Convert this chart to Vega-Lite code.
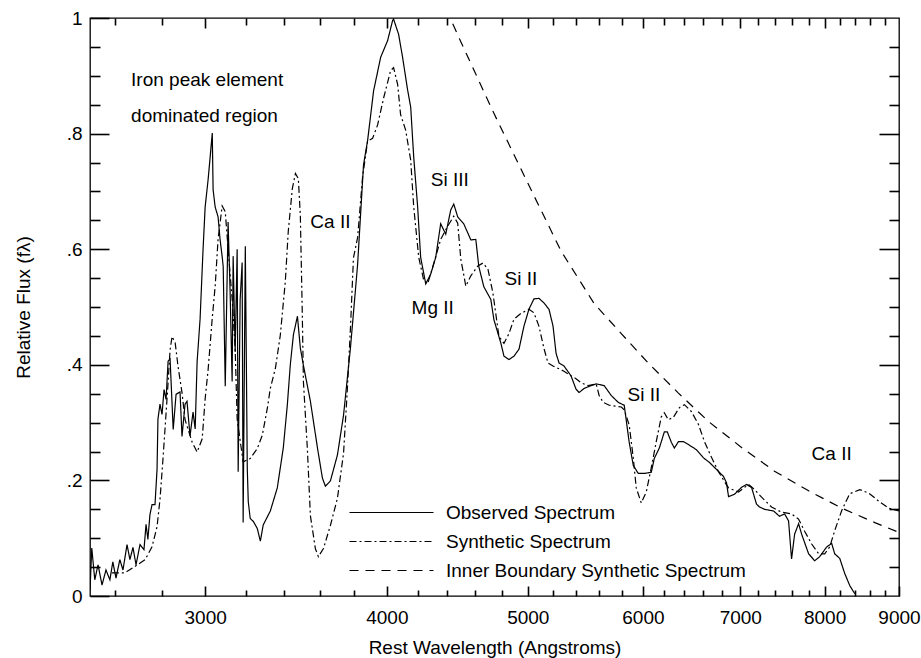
{
  "$schema": "https://vega.github.io/schema/vega-lite/v6.json",
  "width": 809,
  "height": 578,
  "autosize": {"type": "none"},
  "padding": {"left": 90, "top": 18, "right": 22, "bottom": 62},
  "background": "white",
  "config": {
    "font": "Liberation Sans",
    "view": {"stroke": "black", "strokeWidth": 1.3},
    "axis": {"domain": false, "grid": false, "labelColor": "black", "titleColor": "black", "labelFontSize": 19, "titleFontSize": 19, "titleFontWeight": "normal", "labelFont": "Liberation Sans", "titleFont": "Liberation Sans", "labelFlush": false, "labelOverlap": false}
  },
  "datasets": {
    "spectra": [
      {"series": "Observed Spectrum", "wavelength": 2500, "flux": 0.010},
      {"series": "Observed Spectrum", "wavelength": 2507, "flux": 0.083},
      {"series": "Observed Spectrum", "wavelength": 2519, "flux": 0.028},
      {"series": "Observed Spectrum", "wavelength": 2532, "flux": 0.054},
      {"series": "Observed Spectrum", "wavelength": 2548, "flux": 0.019},
      {"series": "Observed Spectrum", "wavelength": 2564, "flux": 0.045},
      {"series": "Observed Spectrum", "wavelength": 2580, "flux": 0.028},
      {"series": "Observed Spectrum", "wavelength": 2592, "flux": 0.059},
      {"series": "Observed Spectrum", "wavelength": 2605, "flux": 0.031},
      {"series": "Observed Spectrum", "wavelength": 2621, "flux": 0.063},
      {"series": "Observed Spectrum", "wavelength": 2634, "flux": 0.045},
      {"series": "Observed Spectrum", "wavelength": 2651, "flux": 0.089},
      {"series": "Observed Spectrum", "wavelength": 2663, "flux": 0.063},
      {"series": "Observed Spectrum", "wavelength": 2676, "flux": 0.084},
      {"series": "Observed Spectrum", "wavelength": 2689, "flux": 0.054},
      {"series": "Observed Spectrum", "wavelength": 2706, "flux": 0.089},
      {"series": "Observed Spectrum", "wavelength": 2723, "flux": 0.080},
      {"series": "Observed Spectrum", "wavelength": 2732, "flux": 0.124},
      {"series": "Observed Spectrum", "wavelength": 2740, "flux": 0.098},
      {"series": "Observed Spectrum", "wavelength": 2749, "flux": 0.141},
      {"series": "Observed Spectrum", "wavelength": 2758, "flux": 0.158},
      {"series": "Observed Spectrum", "wavelength": 2771, "flux": 0.158},
      {"series": "Observed Spectrum", "wavelength": 2780, "flux": 0.219},
      {"series": "Observed Spectrum", "wavelength": 2784, "flux": 0.306},
      {"series": "Observed Spectrum", "wavelength": 2793, "flux": 0.332},
      {"series": "Observed Spectrum", "wavelength": 2802, "flux": 0.314},
      {"series": "Observed Spectrum", "wavelength": 2811, "flux": 0.357},
      {"series": "Observed Spectrum", "wavelength": 2820, "flux": 0.340},
      {"series": "Observed Spectrum", "wavelength": 2829, "flux": 0.406},
      {"series": "Observed Spectrum", "wavelength": 2838, "flux": 0.410},
      {"series": "Observed Spectrum", "wavelength": 2852, "flux": 0.288},
      {"series": "Observed Spectrum", "wavelength": 2865, "flux": 0.349},
      {"series": "Observed Spectrum", "wavelength": 2883, "flux": 0.353},
      {"series": "Observed Spectrum", "wavelength": 2892, "flux": 0.276},
      {"series": "Observed Spectrum", "wavelength": 2906, "flux": 0.332},
      {"series": "Observed Spectrum", "wavelength": 2915, "flux": 0.337},
      {"series": "Observed Spectrum", "wavelength": 2929, "flux": 0.277},
      {"series": "Observed Spectrum", "wavelength": 2943, "flux": 0.318},
      {"series": "Observed Spectrum", "wavelength": 2953, "flux": 0.289},
      {"series": "Observed Spectrum", "wavelength": 2962, "flux": 0.405},
      {"series": "Observed Spectrum", "wavelength": 2976, "flux": 0.479},
      {"series": "Observed Spectrum", "wavelength": 2990, "flux": 0.599},
      {"series": "Observed Spectrum", "wavelength": 3000, "flux": 0.673},
      {"series": "Observed Spectrum", "wavelength": 3014, "flux": 0.720},
      {"series": "Observed Spectrum", "wavelength": 3024, "flux": 0.760},
      {"series": "Observed Spectrum", "wavelength": 3034, "flux": 0.801},
      {"series": "Observed Spectrum", "wavelength": 3038, "flux": 0.703},
      {"series": "Observed Spectrum", "wavelength": 3048, "flux": 0.673},
      {"series": "Observed Spectrum", "wavelength": 3062, "flux": 0.656},
      {"series": "Observed Spectrum", "wavelength": 3072, "flux": 0.616},
      {"series": "Observed Spectrum", "wavelength": 3082, "flux": 0.587},
      {"series": "Observed Spectrum", "wavelength": 3087, "flux": 0.570},
      {"series": "Observed Spectrum", "wavelength": 3097, "flux": 0.363},
      {"series": "Observed Spectrum", "wavelength": 3111, "flux": 0.647},
      {"series": "Observed Spectrum", "wavelength": 3121, "flux": 0.526},
      {"series": "Observed Spectrum", "wavelength": 3131, "flux": 0.371},
      {"series": "Observed Spectrum", "wavelength": 3136, "flux": 0.588},
      {"series": "Observed Spectrum", "wavelength": 3146, "flux": 0.422},
      {"series": "Observed Spectrum", "wavelength": 3156, "flux": 0.600},
      {"series": "Observed Spectrum", "wavelength": 3161, "flux": 0.215},
      {"series": "Observed Spectrum", "wavelength": 3171, "flux": 0.513},
      {"series": "Observed Spectrum", "wavelength": 3181, "flux": 0.577},
      {"series": "Observed Spectrum", "wavelength": 3186, "flux": 0.127},
      {"series": "Observed Spectrum", "wavelength": 3197, "flux": 0.605},
      {"series": "Observed Spectrum", "wavelength": 3207, "flux": 0.220},
      {"series": "Observed Spectrum", "wavelength": 3212, "flux": 0.163},
      {"series": "Observed Spectrum", "wavelength": 3222, "flux": 0.134},
      {"series": "Observed Spectrum", "wavelength": 3238, "flux": 0.129},
      {"series": "Observed Spectrum", "wavelength": 3258, "flux": 0.117},
      {"series": "Observed Spectrum", "wavelength": 3274, "flux": 0.095},
      {"series": "Observed Spectrum", "wavelength": 3289, "flux": 0.123},
      {"series": "Observed Spectrum", "wavelength": 3326, "flux": 0.147},
      {"series": "Observed Spectrum", "wavelength": 3363, "flux": 0.187},
      {"series": "Observed Spectrum", "wavelength": 3395, "flux": 0.256},
      {"series": "Observed Spectrum", "wavelength": 3417, "flux": 0.331},
      {"series": "Observed Spectrum", "wavelength": 3433, "flux": 0.400},
      {"series": "Observed Spectrum", "wavelength": 3450, "flux": 0.452},
      {"series": "Observed Spectrum", "wavelength": 3472, "flux": 0.484},
      {"series": "Observed Spectrum", "wavelength": 3488, "flux": 0.429},
      {"series": "Observed Spectrum", "wavelength": 3505, "flux": 0.399},
      {"series": "Observed Spectrum", "wavelength": 3544, "flux": 0.337},
      {"series": "Observed Spectrum", "wavelength": 3584, "flux": 0.256},
      {"series": "Observed Spectrum", "wavelength": 3612, "flux": 0.204},
      {"series": "Observed Spectrum", "wavelength": 3629, "flux": 0.190},
      {"series": "Observed Spectrum", "wavelength": 3658, "flux": 0.199},
      {"series": "Observed Spectrum", "wavelength": 3699, "flux": 0.244},
      {"series": "Observed Spectrum", "wavelength": 3735, "flux": 0.313},
      {"series": "Observed Spectrum", "wavelength": 3776, "flux": 0.429},
      {"series": "Observed Spectrum", "wavelength": 3819, "flux": 0.573},
      {"series": "Observed Spectrum", "wavelength": 3855, "flux": 0.746},
      {"series": "Observed Spectrum", "wavelength": 3880, "flux": 0.788},
      {"series": "Observed Spectrum", "wavelength": 3917, "flux": 0.874},
      {"series": "Observed Spectrum", "wavelength": 3961, "flux": 0.932},
      {"series": "Observed Spectrum", "wavelength": 4005, "flux": 0.961},
      {"series": "Observed Spectrum", "wavelength": 4037, "flux": 0.996},
      {"series": "Observed Spectrum", "wavelength": 4043, "flux": 0.998},
      {"series": "Observed Spectrum", "wavelength": 4075, "flux": 0.972},
      {"series": "Observed Spectrum", "wavelength": 4101, "flux": 0.932},
      {"series": "Observed Spectrum", "wavelength": 4134, "flux": 0.875},
      {"series": "Observed Spectrum", "wavelength": 4154, "flux": 0.846},
      {"series": "Observed Spectrum", "wavelength": 4174, "flux": 0.759},
      {"series": "Observed Spectrum", "wavelength": 4200, "flux": 0.673},
      {"series": "Observed Spectrum", "wavelength": 4220, "flux": 0.586},
      {"series": "Observed Spectrum", "wavelength": 4254, "flux": 0.540},
      {"series": "Observed Spectrum", "wavelength": 4288, "flux": 0.557},
      {"series": "Observed Spectrum", "wavelength": 4322, "flux": 0.586},
      {"series": "Observed Spectrum", "wavelength": 4356, "flux": 0.644},
      {"series": "Observed Spectrum", "wavelength": 4391, "flux": 0.626},
      {"series": "Observed Spectrum", "wavelength": 4426, "flux": 0.668},
      {"series": "Observed Spectrum", "wavelength": 4447, "flux": 0.678},
      {"series": "Observed Spectrum", "wavelength": 4475, "flux": 0.656},
      {"series": "Observed Spectrum", "wavelength": 4518, "flux": 0.644},
      {"series": "Observed Spectrum", "wavelength": 4569, "flux": 0.616},
      {"series": "Observed Spectrum", "wavelength": 4605, "flux": 0.617},
      {"series": "Observed Spectrum", "wavelength": 4627, "flux": 0.570},
      {"series": "Observed Spectrum", "wavelength": 4664, "flux": 0.535},
      {"series": "Observed Spectrum", "wavelength": 4716, "flux": 0.513},
      {"series": "Observed Spectrum", "wavelength": 4739, "flux": 0.478},
      {"series": "Observed Spectrum", "wavelength": 4792, "flux": 0.437},
      {"series": "Observed Spectrum", "wavelength": 4815, "flux": 0.415},
      {"series": "Observed Spectrum", "wavelength": 4853, "flux": 0.409},
      {"series": "Observed Spectrum", "wavelength": 4892, "flux": 0.415},
      {"series": "Observed Spectrum", "wavelength": 4931, "flux": 0.427},
      {"series": "Observed Spectrum", "wavelength": 4970, "flux": 0.467},
      {"series": "Observed Spectrum", "wavelength": 5009, "flux": 0.496},
      {"series": "Observed Spectrum", "wavelength": 5049, "flux": 0.514},
      {"series": "Observed Spectrum", "wavelength": 5089, "flux": 0.515},
      {"series": "Observed Spectrum", "wavelength": 5130, "flux": 0.507},
      {"series": "Observed Spectrum", "wavelength": 5171, "flux": 0.496},
      {"series": "Observed Spectrum", "wavelength": 5204, "flux": 0.467},
      {"series": "Observed Spectrum", "wavelength": 5229, "flux": 0.420},
      {"series": "Observed Spectrum", "wavelength": 5254, "flux": 0.403},
      {"series": "Observed Spectrum", "wavelength": 5295, "flux": 0.398},
      {"series": "Observed Spectrum", "wavelength": 5354, "flux": 0.381},
      {"series": "Observed Spectrum", "wavelength": 5397, "flux": 0.358},
      {"series": "Observed Spectrum", "wavelength": 5423, "flux": 0.352},
      {"series": "Observed Spectrum", "wavelength": 5466, "flux": 0.359},
      {"series": "Observed Spectrum", "wavelength": 5528, "flux": 0.364},
      {"series": "Observed Spectrum", "wavelength": 5572, "flux": 0.367},
      {"series": "Observed Spectrum", "wavelength": 5643, "flux": 0.364},
      {"series": "Observed Spectrum", "wavelength": 5706, "flux": 0.347},
      {"series": "Observed Spectrum", "wavelength": 5770, "flux": 0.335},
      {"series": "Observed Spectrum", "wavelength": 5825, "flux": 0.330},
      {"series": "Observed Spectrum", "wavelength": 5871, "flux": 0.266},
      {"series": "Observed Spectrum", "wavelength": 5909, "flux": 0.226},
      {"series": "Observed Spectrum", "wavelength": 5956, "flux": 0.212},
      {"series": "Observed Spectrum", "wavelength": 6013, "flux": 0.212},
      {"series": "Observed Spectrum", "wavelength": 6080, "flux": 0.214},
      {"series": "Observed Spectrum", "wavelength": 6109, "flux": 0.238},
      {"series": "Observed Spectrum", "wavelength": 6158, "flux": 0.256},
      {"series": "Observed Spectrum", "wavelength": 6207, "flux": 0.284},
      {"series": "Observed Spectrum", "wavelength": 6236, "flux": 0.284},
      {"series": "Observed Spectrum", "wavelength": 6276, "flux": 0.266},
      {"series": "Observed Spectrum", "wavelength": 6306, "flux": 0.256},
      {"series": "Observed Spectrum", "wavelength": 6347, "flux": 0.267},
      {"series": "Observed Spectrum", "wavelength": 6397, "flux": 0.267},
      {"series": "Observed Spectrum", "wavelength": 6458, "flux": 0.261},
      {"series": "Observed Spectrum", "wavelength": 6531, "flux": 0.253},
      {"series": "Observed Spectrum", "wavelength": 6604, "flux": 0.239},
      {"series": "Observed Spectrum", "wavelength": 6667, "flux": 0.231},
      {"series": "Observed Spectrum", "wavelength": 6741, "flux": 0.219},
      {"series": "Observed Spectrum", "wavelength": 6816, "flux": 0.207},
      {"series": "Observed Spectrum", "wavelength": 6849, "flux": 0.196},
      {"series": "Observed Spectrum", "wavelength": 6871, "flux": 0.172},
      {"series": "Observed Spectrum", "wavelength": 6936, "flux": 0.176},
      {"series": "Observed Spectrum", "wavelength": 7014, "flux": 0.188},
      {"series": "Observed Spectrum", "wavelength": 7070, "flux": 0.193},
      {"series": "Observed Spectrum", "wavelength": 7126, "flux": 0.188},
      {"series": "Observed Spectrum", "wavelength": 7182, "flux": 0.159},
      {"series": "Observed Spectrum", "wavelength": 7217, "flux": 0.154},
      {"series": "Observed Spectrum", "wavelength": 7274, "flux": 0.150},
      {"series": "Observed Spectrum", "wavelength": 7379, "flux": 0.147},
      {"series": "Observed Spectrum", "wavelength": 7449, "flux": 0.138},
      {"series": "Observed Spectrum", "wavelength": 7509, "flux": 0.142},
      {"series": "Observed Spectrum", "wavelength": 7556, "flux": 0.130},
      {"series": "Observed Spectrum", "wavelength": 7592, "flux": 0.064},
      {"series": "Observed Spectrum", "wavelength": 7629, "flux": 0.107},
      {"series": "Observed Spectrum", "wavelength": 7677, "flux": 0.125},
      {"series": "Observed Spectrum", "wavelength": 7714, "flux": 0.107},
      {"series": "Observed Spectrum", "wavelength": 7800, "flux": 0.073},
      {"series": "Observed Spectrum", "wavelength": 7875, "flux": 0.061},
      {"series": "Observed Spectrum", "wavelength": 7938, "flux": 0.068},
      {"series": "Observed Spectrum", "wavelength": 8027, "flux": 0.085},
      {"series": "Observed Spectrum", "wavelength": 8090, "flux": 0.091},
      {"series": "Observed Spectrum", "wavelength": 8129, "flux": 0.073},
      {"series": "Observed Spectrum", "wavelength": 8194, "flux": 0.065},
      {"series": "Observed Spectrum", "wavelength": 8259, "flux": 0.039},
      {"series": "Observed Spectrum", "wavelength": 8325, "flux": 0.018},
      {"series": "Observed Spectrum", "wavelength": 8391, "flux": 0.004},
      {"series": "Synthetic Spectrum", "wavelength": 2588, "flux": 0.040},
      {"series": "Synthetic Spectrum", "wavelength": 2642, "flux": 0.040},
      {"series": "Synthetic Spectrum", "wavelength": 2684, "flux": 0.051},
      {"series": "Synthetic Spectrum", "wavelength": 2728, "flux": 0.063},
      {"series": "Synthetic Spectrum", "wavelength": 2758, "flux": 0.085},
      {"series": "Synthetic Spectrum", "wavelength": 2780, "flux": 0.120},
      {"series": "Synthetic Spectrum", "wavelength": 2793, "flux": 0.167},
      {"series": "Synthetic Spectrum", "wavelength": 2806, "flux": 0.236},
      {"series": "Synthetic Spectrum", "wavelength": 2816, "flux": 0.293},
      {"series": "Synthetic Spectrum", "wavelength": 2829, "flux": 0.369},
      {"series": "Synthetic Spectrum", "wavelength": 2838, "flux": 0.426},
      {"series": "Synthetic Spectrum", "wavelength": 2847, "flux": 0.449},
      {"series": "Synthetic Spectrum", "wavelength": 2861, "flux": 0.438},
      {"series": "Synthetic Spectrum", "wavelength": 2874, "flux": 0.397},
      {"series": "Synthetic Spectrum", "wavelength": 2892, "flux": 0.352},
      {"series": "Synthetic Spectrum", "wavelength": 2906, "flux": 0.305},
      {"series": "Synthetic Spectrum", "wavelength": 2939, "flux": 0.266},
      {"series": "Synthetic Spectrum", "wavelength": 2962, "flux": 0.249},
      {"series": "Synthetic Spectrum", "wavelength": 2986, "flux": 0.272},
      {"series": "Synthetic Spectrum", "wavelength": 3000, "flux": 0.341},
      {"series": "Synthetic Spectrum", "wavelength": 3014, "flux": 0.391},
      {"series": "Synthetic Spectrum", "wavelength": 3034, "flux": 0.481},
      {"series": "Synthetic Spectrum", "wavelength": 3048, "flux": 0.536},
      {"series": "Synthetic Spectrum", "wavelength": 3062, "flux": 0.617},
      {"series": "Synthetic Spectrum", "wavelength": 3082, "flux": 0.675},
      {"series": "Synthetic Spectrum", "wavelength": 3097, "flux": 0.665},
      {"series": "Synthetic Spectrum", "wavelength": 3111, "flux": 0.601},
      {"series": "Synthetic Spectrum", "wavelength": 3131, "flux": 0.514},
      {"series": "Synthetic Spectrum", "wavelength": 3146, "flux": 0.428},
      {"series": "Synthetic Spectrum", "wavelength": 3156, "flux": 0.306},
      {"series": "Synthetic Spectrum", "wavelength": 3186, "flux": 0.232},
      {"series": "Synthetic Spectrum", "wavelength": 3222, "flux": 0.238},
      {"series": "Synthetic Spectrum", "wavelength": 3258, "flux": 0.255},
      {"series": "Synthetic Spectrum", "wavelength": 3284, "flux": 0.278},
      {"series": "Synthetic Spectrum", "wavelength": 3310, "flux": 0.324},
      {"series": "Synthetic Spectrum", "wavelength": 3326, "flux": 0.359},
      {"series": "Synthetic Spectrum", "wavelength": 3353, "flux": 0.394},
      {"series": "Synthetic Spectrum", "wavelength": 3379, "flux": 0.451},
      {"series": "Synthetic Spectrum", "wavelength": 3406, "flux": 0.544},
      {"series": "Synthetic Spectrum", "wavelength": 3422, "flux": 0.631},
      {"series": "Synthetic Spectrum", "wavelength": 3444, "flux": 0.705},
      {"series": "Synthetic Spectrum", "wavelength": 3461, "flux": 0.731},
      {"series": "Synthetic Spectrum", "wavelength": 3477, "flux": 0.722},
      {"series": "Synthetic Spectrum", "wavelength": 3488, "flux": 0.658},
      {"series": "Synthetic Spectrum", "wavelength": 3499, "flux": 0.485},
      {"series": "Synthetic Spectrum", "wavelength": 3505, "flux": 0.371},
      {"series": "Synthetic Spectrum", "wavelength": 3527, "flux": 0.255},
      {"series": "Synthetic Spectrum", "wavelength": 3544, "flux": 0.139},
      {"series": "Synthetic Spectrum", "wavelength": 3572, "flux": 0.082},
      {"series": "Synthetic Spectrum", "wavelength": 3589, "flux": 0.068},
      {"series": "Synthetic Spectrum", "wavelength": 3618, "flux": 0.082},
      {"series": "Synthetic Spectrum", "wavelength": 3658, "flux": 0.122},
      {"series": "Synthetic Spectrum", "wavelength": 3699, "flux": 0.169},
      {"series": "Synthetic Spectrum", "wavelength": 3735, "flux": 0.247},
      {"series": "Synthetic Spectrum", "wavelength": 3758, "flux": 0.360},
      {"series": "Synthetic Spectrum", "wavelength": 3776, "flux": 0.463},
      {"series": "Synthetic Spectrum", "wavelength": 3794, "flux": 0.585},
      {"series": "Synthetic Spectrum", "wavelength": 3819, "flux": 0.620},
      {"series": "Synthetic Spectrum", "wavelength": 3849, "flux": 0.724},
      {"series": "Synthetic Spectrum", "wavelength": 3880, "flux": 0.787},
      {"series": "Synthetic Spectrum", "wavelength": 3911, "flux": 0.792},
      {"series": "Synthetic Spectrum", "wavelength": 3942, "flux": 0.815},
      {"series": "Synthetic Spectrum", "wavelength": 3980, "flux": 0.862},
      {"series": "Synthetic Spectrum", "wavelength": 4024, "flux": 0.909},
      {"series": "Synthetic Spectrum", "wavelength": 4043, "flux": 0.914},
      {"series": "Synthetic Spectrum", "wavelength": 4069, "flux": 0.885},
      {"series": "Synthetic Spectrum", "wavelength": 4088, "flux": 0.833},
      {"series": "Synthetic Spectrum", "wavelength": 4121, "flux": 0.806},
      {"series": "Synthetic Spectrum", "wavelength": 4154, "flux": 0.754},
      {"series": "Synthetic Spectrum", "wavelength": 4174, "flux": 0.673},
      {"series": "Synthetic Spectrum", "wavelength": 4207, "flux": 0.586},
      {"series": "Synthetic Spectrum", "wavelength": 4240, "flux": 0.547},
      {"series": "Synthetic Spectrum", "wavelength": 4267, "flux": 0.540},
      {"series": "Synthetic Spectrum", "wavelength": 4308, "flux": 0.575},
      {"series": "Synthetic Spectrum", "wavelength": 4356, "flux": 0.617},
      {"series": "Synthetic Spectrum", "wavelength": 4405, "flux": 0.640},
      {"series": "Synthetic Spectrum", "wavelength": 4447, "flux": 0.657},
      {"series": "Synthetic Spectrum", "wavelength": 4475, "flux": 0.645},
      {"series": "Synthetic Spectrum", "wavelength": 4497, "flux": 0.583},
      {"series": "Synthetic Spectrum", "wavelength": 4533, "flux": 0.536},
      {"series": "Synthetic Spectrum", "wavelength": 4569, "flux": 0.554},
      {"series": "Synthetic Spectrum", "wavelength": 4620, "flux": 0.571},
      {"series": "Synthetic Spectrum", "wavelength": 4657, "flux": 0.576},
      {"series": "Synthetic Spectrum", "wavelength": 4694, "flux": 0.566},
      {"series": "Synthetic Spectrum", "wavelength": 4731, "flux": 0.525},
      {"series": "Synthetic Spectrum", "wavelength": 4777, "flux": 0.449},
      {"series": "Synthetic Spectrum", "wavelength": 4815, "flux": 0.437},
      {"series": "Synthetic Spectrum", "wavelength": 4853, "flux": 0.454},
      {"series": "Synthetic Spectrum", "wavelength": 4892, "flux": 0.479},
      {"series": "Synthetic Spectrum", "wavelength": 4946, "flux": 0.489},
      {"series": "Synthetic Spectrum", "wavelength": 5009, "flux": 0.496},
      {"series": "Synthetic Spectrum", "wavelength": 5049, "flux": 0.490},
      {"series": "Synthetic Spectrum", "wavelength": 5089, "flux": 0.467},
      {"series": "Synthetic Spectrum", "wavelength": 5130, "flux": 0.428},
      {"series": "Synthetic Spectrum", "wavelength": 5163, "flux": 0.403},
      {"series": "Synthetic Spectrum", "wavelength": 5204, "flux": 0.398},
      {"series": "Synthetic Spectrum", "wavelength": 5295, "flux": 0.389},
      {"series": "Synthetic Spectrum", "wavelength": 5354, "flux": 0.381},
      {"series": "Synthetic Spectrum", "wavelength": 5397, "flux": 0.376},
      {"series": "Synthetic Spectrum", "wavelength": 5440, "flux": 0.369},
      {"series": "Synthetic Spectrum", "wavelength": 5501, "flux": 0.364},
      {"series": "Synthetic Spectrum", "wavelength": 5572, "flux": 0.367},
      {"series": "Synthetic Spectrum", "wavelength": 5598, "flux": 0.347},
      {"series": "Synthetic Spectrum", "wavelength": 5634, "flux": 0.335},
      {"series": "Synthetic Spectrum", "wavelength": 5688, "flux": 0.330},
      {"series": "Synthetic Spectrum", "wavelength": 5798, "flux": 0.327},
      {"series": "Synthetic Spectrum", "wavelength": 5825, "flux": 0.322},
      {"series": "Synthetic Spectrum", "wavelength": 5871, "flux": 0.296},
      {"series": "Synthetic Spectrum", "wavelength": 5909, "flux": 0.239},
      {"series": "Synthetic Spectrum", "wavelength": 5937, "flux": 0.187},
      {"series": "Synthetic Spectrum", "wavelength": 5984, "flux": 0.161},
      {"series": "Synthetic Spectrum", "wavelength": 6032, "flux": 0.180},
      {"series": "Synthetic Spectrum", "wavelength": 6080, "flux": 0.222},
      {"series": "Synthetic Spectrum", "wavelength": 6128, "flux": 0.267},
      {"series": "Synthetic Spectrum", "wavelength": 6177, "flux": 0.310},
      {"series": "Synthetic Spectrum", "wavelength": 6207, "flux": 0.317},
      {"series": "Synthetic Spectrum", "wavelength": 6246, "flux": 0.305},
      {"series": "Synthetic Spectrum", "wavelength": 6296, "flux": 0.309},
      {"series": "Synthetic Spectrum", "wavelength": 6357, "flux": 0.326},
      {"series": "Synthetic Spectrum", "wavelength": 6407, "flux": 0.331},
      {"series": "Synthetic Spectrum", "wavelength": 6479, "flux": 0.319},
      {"series": "Synthetic Spectrum", "wavelength": 6551, "flux": 0.297},
      {"series": "Synthetic Spectrum", "wavelength": 6614, "flux": 0.267},
      {"series": "Synthetic Spectrum", "wavelength": 6688, "flux": 0.240},
      {"series": "Synthetic Spectrum", "wavelength": 6763, "flux": 0.215},
      {"series": "Synthetic Spectrum", "wavelength": 6827, "flux": 0.198},
      {"series": "Synthetic Spectrum", "wavelength": 6871, "flux": 0.187},
      {"series": "Synthetic Spectrum", "wavelength": 6980, "flux": 0.180},
      {"series": "Synthetic Spectrum", "wavelength": 7092, "flux": 0.193},
      {"series": "Synthetic Spectrum", "wavelength": 7160, "flux": 0.184},
      {"series": "Synthetic Spectrum", "wavelength": 7240, "flux": 0.171},
      {"series": "Synthetic Spectrum", "wavelength": 7355, "flux": 0.154},
      {"series": "Synthetic Spectrum", "wavelength": 7473, "flux": 0.145},
      {"series": "Synthetic Spectrum", "wavelength": 7592, "flux": 0.142},
      {"series": "Synthetic Spectrum", "wavelength": 7677, "flux": 0.133},
      {"series": "Synthetic Spectrum", "wavelength": 7751, "flux": 0.112},
      {"series": "Synthetic Spectrum", "wavelength": 7838, "flux": 0.090},
      {"series": "Synthetic Spectrum", "wavelength": 7925, "flux": 0.073},
      {"series": "Synthetic Spectrum", "wavelength": 8001, "flux": 0.073},
      {"series": "Synthetic Spectrum", "wavelength": 8065, "flux": 0.085},
      {"series": "Synthetic Spectrum", "wavelength": 8129, "flux": 0.113},
      {"series": "Synthetic Spectrum", "wavelength": 8220, "flux": 0.148},
      {"series": "Synthetic Spectrum", "wavelength": 8325, "flux": 0.177},
      {"series": "Synthetic Spectrum", "wavelength": 8458, "flux": 0.184},
      {"series": "Synthetic Spectrum", "wavelength": 8580, "flux": 0.178},
      {"series": "Synthetic Spectrum", "wavelength": 8717, "flux": 0.164},
      {"series": "Synthetic Spectrum", "wavelength": 8856, "flux": 0.152},
      {"series": "Synthetic Spectrum", "wavelength": 9000, "flux": 0.147},
      {"series": "Inner Boundary Synthetic Spectrum", "wavelength": 4440, "flux": 0.990},
      {"series": "Inner Boundary Synthetic Spectrum", "wavelength": 4497, "flux": 0.959},
      {"series": "Inner Boundary Synthetic Spectrum", "wavelength": 4739, "flux": 0.835},
      {"series": "Inner Boundary Synthetic Spectrum", "wavelength": 5001, "flux": 0.714},
      {"series": "Inner Boundary Synthetic Spectrum", "wavelength": 5270, "flux": 0.597},
      {"series": "Inner Boundary Synthetic Spectrum", "wavelength": 5554, "flux": 0.506},
      {"series": "Inner Boundary Synthetic Spectrum", "wavelength": 5798, "flux": 0.454},
      {"series": "Inner Boundary Synthetic Spectrum", "wavelength": 6051, "flux": 0.403},
      {"series": "Inner Boundary Synthetic Spectrum", "wavelength": 6347, "flux": 0.351},
      {"series": "Inner Boundary Synthetic Spectrum", "wavelength": 6656, "flux": 0.302},
      {"series": "Inner Boundary Synthetic Spectrum", "wavelength": 7014, "flux": 0.257},
      {"series": "Inner Boundary Synthetic Spectrum", "wavelength": 7390, "flux": 0.216},
      {"series": "Inner Boundary Synthetic Spectrum", "wavelength": 7800, "flux": 0.182},
      {"series": "Inner Boundary Synthetic Spectrum", "wavelength": 8220, "flux": 0.152},
      {"series": "Inner Boundary Synthetic Spectrum", "wavelength": 8662, "flux": 0.127},
      {"series": "Inner Boundary Synthetic Spectrum", "wavelength": 9000, "flux": 0.110}
    ],
    "notes": [
      {"label": "Ca II", "wavelength": 3658, "flux": 0.647},
      {"label": "Si III", "wavelength": 4419, "flux": 0.720},
      {"label": "Mg II", "wavelength": 4301, "flux": 0.498},
      {"label": "Si II", "wavelength": 4946, "flux": 0.548},
      {"label": "Si II", "wavelength": 6009, "flux": 0.347},
      {"label": "Ca II", "wavelength": 8090, "flux": 0.246}
    ],
    "region": [
      {"label": "Iron peak element", "wavelength": 2668, "flux": 0.893},
      {"label": "dominated region", "wavelength": 2668, "flux": 0.831}
    ]
  },
  "layer": [
    {
      "data": {"name": "spectra"},
      "mark": {"type": "line", "clip": true, "color": "black", "strokeWidth": 1.2},
      "encoding": {
        "x": {
          "field": "wavelength", "type": "quantitative",
          "scale": {"type": "log", "domain": [2500, 9000], "nice": false, "zero": false},
          "axis": {"orient": "bottom", "values": [3000, 4000, 5000, 6000, 7000, 8000, 9000], "format": "d", "ticks": true, "tickColor": "black", "tickWidth": 1.6, "offset": -10, "tickSize": 10, "labelPadding": 12, "title": "Rest Wavelength (Angstroms)", "titlePadding": 11}
        },
        "y": {
          "field": "flux", "type": "quantitative",
          "scale": {"domain": [0, 1], "nice": false, "zero": true},
          "axis": {"orient": "left", "values": [0, 0.2, 0.4, 0.6, 0.8, 1], "labelExpr": "datum.value == 0 ? '0' : datum.value == 1 ? '1' : replace(format(datum.value, '.1f'), '0.', '.')", "ticks": true, "tickColor": "black", "tickWidth": 1.6, "offset": -19, "tickSize": 19, "labelPadding": 8, "title": "Relative Flux (fλ)", "titlePadding": 33}
        },
        "strokeDash": {
          "field": "series", "type": "nominal",
          "scale": {"domain": ["Observed Spectrum", "Synthetic Spectrum", "Inner Boundary Synthetic Spectrum"], "range": [[1, 0], [7, 3, 2, 3], [9, 7]]},
          "legend": {"orient": "none", "legendX": 260, "legendY": 483, "title": null, "symbolType": "M-4,0H4", "symbolSize": 441, "symbolStrokeColor": "black", "symbolFillColor": "transparent", "symbolStrokeWidth": 1.2, "labelFontSize": 19, "labelFont": "Liberation Sans", "labelColor": "black", "labelLimit": 500, "rowPadding": 7, "symbolOffset": 30, "labelOffset": 43}
        }
      }
    },
    {
      "data": {"name": "spectra"},
      "mark": {"type": "line", "strokeOpacity": 0},
      "encoding": {
        "x": {"field": "wavelength", "type": "quantitative", "axis": {"orient": "bottom", "values": [2600, 2800, 3200, 3400, 3600, 3800, 4200, 4400, 4600, 4800, 5200, 5400, 5600, 5800, 6200, 6400, 6600, 6800, 7200, 7400, 7600, 7800, 8200, 8400, 8600, 8800], "labels": false, "ticks": true, "tickColor": "black", "tickWidth": 1.6, "offset": -6, "tickSize": 6, "title": null}},
        "y": {"field": "flux", "type": "quantitative", "axis": {"orient": "left", "values": [0.05, 0.1, 0.15, 0.25, 0.3, 0.35, 0.45, 0.5, 0.55, 0.65, 0.7, 0.75, 0.85, 0.9, 0.95], "labels": false, "ticks": true, "tickColor": "black", "tickWidth": 1.6, "offset": -10, "tickSize": 10, "title": null}}
      }
    },
    {
      "data": {"name": "spectra"},
      "mark": {"type": "line", "strokeOpacity": 0},
      "encoding": {
        "x": {"field": "wavelength", "type": "quantitative", "axis": {"orient": "top", "values": [3000, 4000, 5000, 6000, 7000, 8000], "labels": false, "ticks": true, "tickColor": "black", "tickWidth": 1.6, "offset": -10, "tickSize": 10, "title": null}},
        "y": {"field": "flux", "type": "quantitative", "axis": {"orient": "right", "values": [0.2, 0.4, 0.6, 0.8], "labels": false, "ticks": true, "tickColor": "black", "tickWidth": 1.6, "offset": -20, "tickSize": 20, "title": null}}
      }
    },
    {
      "data": {"name": "spectra"},
      "mark": {"type": "line", "strokeOpacity": 0},
      "encoding": {
        "x": {"field": "wavelength", "type": "quantitative", "axis": {"orient": "top", "values": [2600, 2800, 3200, 3400, 3600, 3800, 4200, 4400, 4600, 4800, 5200, 5400, 5600, 5800, 6200, 6400, 6600, 6800, 7200, 7400, 7600, 7800, 8200, 8400, 8600, 8800], "labels": false, "ticks": true, "tickColor": "black", "tickWidth": 1.6, "offset": -7, "tickSize": 7, "title": null}},
        "y": {"field": "flux", "type": "quantitative", "axis": {"orient": "right", "values": [0.05, 0.1, 0.15, 0.25, 0.3, 0.35, 0.45, 0.5, 0.55, 0.65, 0.7, 0.75, 0.85, 0.9, 0.95], "labels": false, "ticks": true, "tickColor": "black", "tickWidth": 1.6, "offset": -10, "tickSize": 10, "title": null}}
      }
    },
    {
      "data": {"name": "notes"},
      "mark": {"type": "text", "align": "center", "baseline": "middle", "fontSize": 19, "color": "black", "font": "Liberation Sans"},
      "encoding": {
        "x": {"field": "wavelength", "type": "quantitative", "axis": null},
        "y": {"field": "flux", "type": "quantitative", "axis": null},
        "text": {"field": "label"}
      }
    },
    {
      "data": {"name": "region"},
      "mark": {"type": "text", "align": "left", "baseline": "middle", "fontSize": 19, "color": "black", "font": "Liberation Sans"},
      "encoding": {
        "x": {"field": "wavelength", "type": "quantitative", "axis": null},
        "y": {"field": "flux", "type": "quantitative", "axis": null},
        "text": {"field": "label"}
      }
    }
  ],
  "resolve": {"axis": {"x": "independent", "y": "independent"}}
}
